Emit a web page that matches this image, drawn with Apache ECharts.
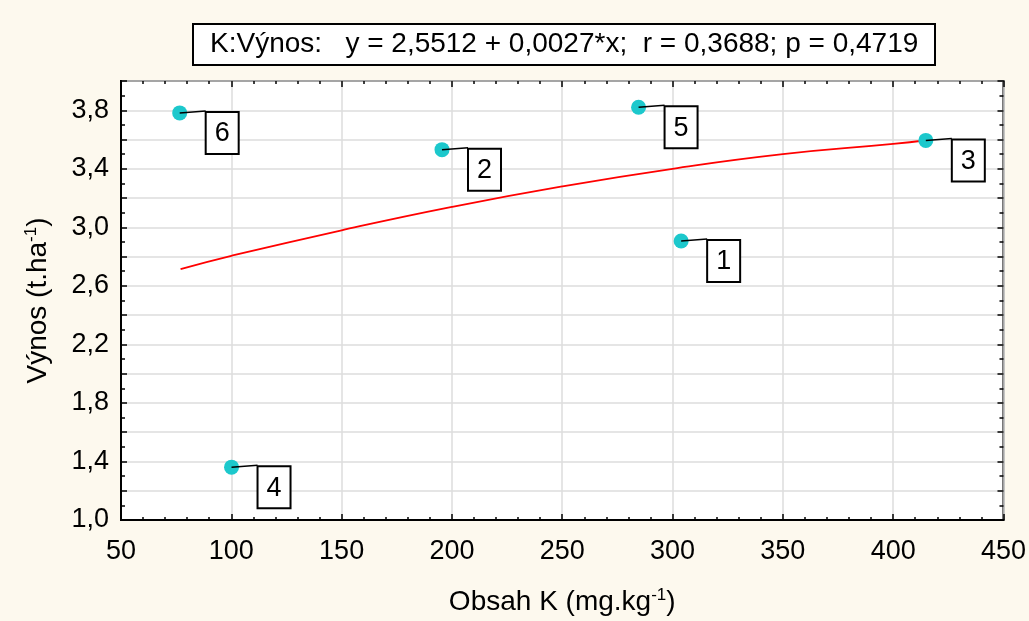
<!DOCTYPE html>
<html>
<head>
<meta charset="utf-8">
<script src="https://cdn.jsdelivr.net/npm/echarts@6/dist/echarts.min.js"></script>
<style>
html,body{margin:0;padding:0;background:#fdf9ee;}
#chart{width:1029px;height:621px;}
</style>
</head>
<body>
<div id="chart"></div>
<script>
// Data
const pointIds = ['1', '2', '3', '4', '5', '6'];
const kValues = [303.9, 195.5, 414.8, 100.1, 284.6, 76.6];
const yieldValues = [2.907, 3.531, 3.594, 1.361, 3.821, 3.782];
const fitX = [77, 100, 150, 200, 250, 300, 350, 400, 415];
const fitY = [2.714, 2.805, 2.98, 3.14, 3.28, 3.40, 3.50, 3.57, 3.595];
const titleText = 'K:Výnos:   y = 2,5512 + 0,0027*x;  r = 0,3688; p = 0,4719';
const xName = 'Obsah K (mg.kg{sup|-1})';
const yName = 'Výnos (t.ha{sup|-1})';

const FONT = '"Liberation Sans", Arial, sans-serif';
const chart = echarts.init(document.getElementById('chart'));

const scatterData = kValues.map((k, i) => [k, yieldValues[i], pointIds[i]]);
const fitData = fitX.map((x, i) => [x, fitY[i]]);

const commonX = {
  type: 'value', min: 50, max: 450, interval: 50
};
const commonY = {
  type: 'value', min: 1.0, max: 4.0, interval: 0.2
};
const supStyle = { fontFamily: FONT, fontSize: 17, verticalAlign: 'top', padding: [0, 0, 13, 0], color: '#000' };

chart.setOption({
  backgroundColor: '#fdf9ee',
  animation: false,
  title: {
    text: titleText,
    left: 193, top: 24,
    padding: [5, 17, 5, 17],
    borderColor: '#000', borderWidth: 2,
    backgroundColor: '#fff',
    textStyle: { fontFamily: FONT, fontSize: 28, lineHeight: 31, fontWeight: 'normal', color: '#000' }
  },
  grid: {
    left: 121, right: 22, top: 81, bottom: 99,
    show: true, backgroundColor: '#fff', borderColor: '#000', borderWidth: 2
  },
  xAxis: [
    Object.assign({}, commonX, {
      position: 'bottom',
      name: xName, nameLocation: 'middle', nameGap: 67,
      nameTextStyle: {
        fontFamily: FONT, fontSize: 28, color: '#000',
        rich: { sup: supStyle }
      },
      axisLine: { show: true, lineStyle: { color: '#000', width: 2 } },
      axisTick: { show: true, inside: true, length: 6, lineStyle: { color: '#000', width: 1.5 } },
      minorTick: { show: true, splitNumber: 5, length: 3, lineStyle: { color: '#000', width: 1.5 } },
      axisLabel: { fontFamily: FONT, fontSize: 27, color: '#000', margin: 18 },
      splitLine: { show: true, lineStyle: { color: '#dcdcdc', width: 1.5 } }
    }),
    Object.assign({}, commonX, {
      position: 'top',
      axisLine: { show: false },
      axisTick: { show: true, inside: true, length: 6, lineStyle: { color: '#000', width: 1.5 } },
      minorTick: { show: true, splitNumber: 5, length: 3, lineStyle: { color: '#000', width: 1.5 } },
      axisLabel: { show: false },
      splitLine: { show: false }
    })
  ],
  yAxis: [
    Object.assign({}, commonY, {
      position: 'left',
      name: yName, nameLocation: 'middle', nameGap: 68, nameRotate: 90,
      nameTextStyle: {
        fontFamily: FONT, fontSize: 28, color: '#000',
        rich: { sup: supStyle }
      },
      axisLine: { show: true, lineStyle: { color: '#000', width: 2 } },
      axisTick: { show: true, inside: true, length: 6, lineStyle: { color: '#000', width: 1.5 } },
      minorTick: { show: true, splitNumber: 2, length: 4, lineStyle: { color: '#000', width: 1.5 } },
      axisLabel: {
        fontFamily: FONT, fontSize: 27, color: '#000', margin: 12,
        formatter: function (v) {
          const k = Math.round((v - 1) * 10);
          if (k % 4 !== 0) return '';
          return v.toFixed(1).replace('.', ',');
        }
      },
      splitLine: { show: true, lineStyle: { color: '#dcdcdc', width: 1.5 } }
    }),
    Object.assign({}, commonY, {
      position: 'right',
      axisLine: { show: false },
      axisTick: { show: true, inside: true, length: 6, lineStyle: { color: '#000', width: 1.5 } },
      minorTick: { show: true, splitNumber: 2, length: 4, lineStyle: { color: '#000', width: 1.5 } },
      axisLabel: { show: false },
      splitLine: { show: false }
    })
  ],
  series: [
    {
      type: 'line',
      data: fitData,
      smooth: true,
      showSymbol: false,
      lineStyle: { color: '#ff0000', width: 1.8 },
      z: 2
    },
    {
      type: 'scatter',
      data: scatterData,
      symbolSize: 15,
      itemStyle: { color: '#1cc8cc', opacity: 1 },
      z: 3
    },
    {
      type: 'custom',
      data: scatterData,
      z: 4,
      renderItem: function (params, api) {
        const p = api.coord([api.value(0), api.value(1)]);
        const bx = p[0] + 26, by = p[1] - 1;
        return {
          type: 'group',
          children: [
            { type: 'line', shape: { x1: p[0], y1: p[1], x2: bx, y2: by - 1 },
              style: { stroke: '#000', lineWidth: 1.5 } },
            { type: 'rect', shape: { x: bx, y: by, width: 33, height: 42 },
              style: { fill: '#fff', stroke: '#000', lineWidth: 2 } },
            { type: 'text', style: {
                text: pointIds[params.dataIndex], x: bx + 16.5, y: by + 22,
                align: 'center', verticalAlign: 'middle',
                font: '27px "Liberation Sans", Arial, sans-serif', fill: '#000' } }
          ]
        };
      }
    }
  ]
});
</script>
</body>
</html>
